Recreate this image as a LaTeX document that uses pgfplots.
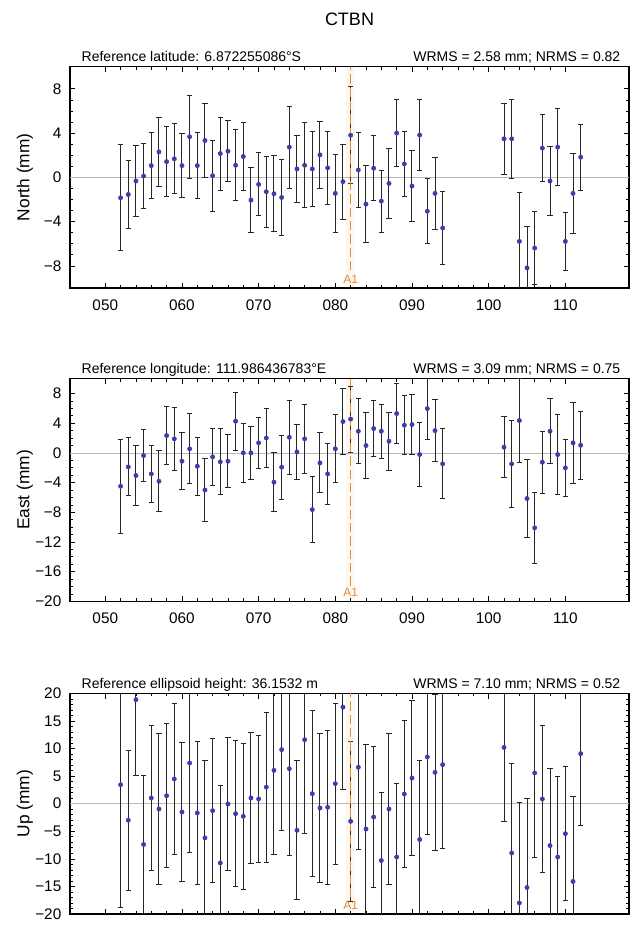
\documentclass[border=0pt]{standalone}
\usepackage{fontspec}
\setmainfont{Liberation Sans}
\usepackage{pgfplots}
\pgfplotsset{compat=1.18}
\usepackage{pgfplotstable}

\definecolor{ptblue}{RGB}{60,60,170}
\definecolor{aorange}{RGB}{232,140,50}

\pgfplotstableread{
x y e
52 -1.85 4.8
53 -1.55 3.1
54 -0.33 3.2
55 0.12 2.9
56 1.06 3.0
57 2.3 3.15
58 1.42 3.15
59 1.67 3.15
60 1.06 2.9
61 3.67 3.75
62 1.06 3.0
63 3.33 3.35
64 0.15 3.2
65 2.15 3.3
66 2.36 2.75
67 1.09 3.2
68 1.88 3.1
69 -2.06 2.95
70 -0.64 2.85
71 -1.3 3.2
72 -1.48 3.45
73 -1.82 3.4
74 2.73 3.7
75 0.76 3.0
76 1.09 3.85
77 0.76 3.4
78 2.03 3.05
79 0.85 3.3
80 -1.45 3.5
81 -0.39 3.4
82 3.8 4.4
83 0.67 3.4
84 -2.42 3.45
85 0.82 2.95
86 -2.15 2.8
87 -0.55 3.2
88 4.0 3.0
89 1.21 2.9
90 -0.79 3.2
91 3.82 3.2
92 -3.06 2.95
93 -1.45 3.25
94 -4.58 3.3
102 3.48 3.2
103 3.48 3.55
104 -5.79 4.4
105 -8.18 3.75
106 -6.39 3.3
107 2.64 3.05
108 -0.33 3.1
109 2.73 3.5
110 -5.79 2.65
111 -1.45 3.6
112 1.82 2.97
}\northtab

\pgfplotstableread{
x y e
52 -4.49 6.35
53 -1.89 3.9
54 -3.05 4.0
55 -0.36 3.55
56 -2.83 3.8
57 -3.82 4.1
58 2.34 3.9
59 1.89 4.2
60 -1.12 3.8
61 0.54 4.7
62 -1.8 3.9
63 -5.0 4.3
64 -0.54 3.8
65 -1.21 4.45
66 -1.12 3.55
67 4.27 3.9
68 0.0 4.0
69 0.0 3.6
70 1.35 3.4
71 2.0 4.0
72 -3.95 4.0
73 -1.93 4.3
74 2.1 5.0
75 0.13 3.65
76 1.89 4.6
77 -7.64 4.4
78 -1.35 4.05
79 -2.83 4.15
80 0.56 4.6
81 4.22 4.4
82 4.56 4.45
83 2.92 4.4
84 0.99 4.45
85 3.28 3.8
86 2.92 3.65
87 1.57 3.9
88 5.3 4.0
89 3.73 4.0
90 3.82 4.1
91 -0.22 4.25
92 5.97 4.2
93 3.0 4.15
94 -1.48 4.7
102 0.76 4.1
103 -1.48 5.9
104 4.36 5.7
105 -6.15 5.3
106 -10.1 4.8
107 -1.26 4.15
108 2.92 4.35
109 -0.22 5.4
110 -2.02 3.85
111 1.35 5.5
112 1.03 4.55
}\easttab

\pgfplotstableread{
x y e
52 3.44 22.3
53 -3.0 12.7
54 18.85 13.8
55 -7.4 12.5
56 1.03 13.2
57 -0.97 13.7
58 1.45 13.0
59 4.47 13.7
60 -1.51 12.6
61 7.37 16.2
62 -1.69 13.0
63 -6.2 14.0
64 -1.27 13.0
65 -10.75 14.0
66 -0.06 12.0
67 -1.81 13.2
68 -2.3 13.2
69 1.03 11.8
70 0.85 11.5
71 3.0 13.6
72 6.04 15.2
73 9.8 14.6
74 6.34 15.8
75 -4.83 12.6
76 11.6 17.0
77 1.81 15.0
78 -0.79 13.5
79 -0.66 14.0
80 3.63 14.6
81 17.5 15.0
82 -3.2 14.5
83 6.59 14.9
84 -4.6 15.4
85 -2.42 12.7
86 -10.3 12.3
87 -0.97 13.6
88 -9.67 13.3
89 1.75 13.4
90 4.65 14.0
91 -6.5 14.4
92 8.46 14.0
93 5.68 14.1
94 7.07 15.2
102 10.2 13.4
103 -8.94 16.2
104 -18.0 18.2
105 -15.2 16.2
106 5.56 15.4
107 0.85 13.4
108 -7.6 13.9
109 -9.67 14.6
110 -5.44 12.2
111 -14.1 15.4
112 9.06 13.0
}\uptab

\pgfplotsset{
  gpsaxis/.style={
    scale only axis, width=419.25pt, anchor=south west,
    xmin=45.4, xmax=118.3,
    xtick={50,60,...,110}, xticklabels={050,060,070,080,090,100,110},
    minor x tick num=4,
    axis line style={line width=0.9pt},
    tick style={black, line width=0.5pt},
    major tick length=4pt, minor tick length=2.2pt,
    tick align=inside,
    tick label style={font=\fontsize{11.5}{13}\selectfont},
    xticklabel style={yshift=-5pt},
    yticklabel style={xshift=-3pt},
  },
  databars/.style={only marks, mark=*, mark size=1.6pt, color=ptblue,
    mark options={fill=ptblue, draw=ptblue},
    error bars/.cd, y dir=both, y explicit,
    error bar style={black!85, line width=0.75pt},
    error mark options={black!85, mark size=2pt, line width=0.75pt, rotate=90}},
}

\begin{document}
\begin{tikzpicture}
\useasboundingbox (0,0) rectangle (475.5pt,694.5pt);

% ---------- North ----------
\begin{axis}[gpsaxis, name=p1, at={(52.5pt,478.5pt)}, height=166pt,
  ymin=-10, ymax=10, ytick={-8,-4,0,4,8}, yticklabels={−8,−4,0,4,8},
  minor y tick num=3]
\addplot[gray!55, line width=0.4pt, forget plot] coordinates {(45.4,0) (118.3,0)};
\addplot+[databars] table[x=x, y=y, y error=e] {\northtab};
\fill[aorange, opacity=0.07] (axis cs:81.45,-10) rectangle (axis cs:82.55,10);
\addplot[aorange, line width=0.9pt, dash pattern=on 7pt off 3pt, forget plot] coordinates {(82,-8.4) (82,10)};
\node[text=aorange, font=\fontsize{9}{10}\selectfont] at (axis cs:82,-9.2) {A1};
\end{axis}
\node[anchor=base west, font=\fontsize{10.5}{12}\selectfont] at ([xshift=5.25pt, yshift=3.75pt]p1.north west) {Reference latitude: 6.872255086°S};
\node[anchor=base east, font=\fontsize{10.5}{12}\selectfont] at ([xshift=-3pt, yshift=3.75pt]p1.north east) {WRMS = 2.58 mm; NRMS = 0.82};
\node[rotate=90, font=\fontsize{13}{15}\selectfont] at ([xshift=-33.75pt]p1.west) {North (mm)};
\node[font=\fontsize{13.5}{15}\selectfont] at ([yshift=35.25pt]p1.north) {CTBN};

% ---------- East ----------
\begin{axis}[gpsaxis, name=p2, at={(52.5pt,243.5pt)}, height=167pt,
  ymin=-20, ymax=10, ytick={-20,-16,...,8}, yticklabels={−20,−16,−12,−8,−4,0,4,8},
  minor y tick num=3]
\addplot[gray!55, line width=0.4pt, forget plot] coordinates {(45.4,0) (118.3,0)};
\addplot+[databars] table[x=x, y=y, y error=e] {\easttab};
\fill[aorange, opacity=0.07] (axis cs:81.45,-20) rectangle (axis cs:82.55,10);
\addplot[aorange, line width=0.9pt, dash pattern=on 7pt off 3pt, forget plot] coordinates {(82,-17.9) (82,10)};
\node[text=aorange, font=\fontsize{9}{10}\selectfont] at (axis cs:82,-18.8) {A1};
\end{axis}
\node[anchor=base west, font=\fontsize{10.5}{12}\selectfont] at ([xshift=5.25pt, yshift=3.75pt]p2.north west) {Reference longitude: 111.986436783°E};
\node[anchor=base east, font=\fontsize{10.5}{12}\selectfont] at ([xshift=-3pt, yshift=3.75pt]p2.north east) {WRMS = 3.09 mm; NRMS = 0.75};
\node[rotate=90, font=\fontsize{13}{15}\selectfont] at ([xshift=-33.75pt]p2.west) {East (mm)};

% ---------- Up ----------
\begin{axis}[gpsaxis, name=p3, at={(52.5pt,9pt)}, height=165.5pt,
  ymin=-20, ymax=20, ytick={-20,-15,...,20}, yticklabels={−20,−15,−10,−5,0,5,10,15,20},
  minor y tick num=4, xticklabels={}]
\addplot[gray!55, line width=0.4pt, forget plot] coordinates {(45.4,0) (118.3,0)};
\addplot+[databars] table[x=x, y=y, y error=e] {\uptab};
\fill[aorange, opacity=0.07] (axis cs:81.45,-20) rectangle (axis cs:82.55,20);
\addplot[aorange, line width=0.9pt, dash pattern=on 7pt off 3pt, forget plot] coordinates {(82,-17.0) (82,20)};
\node[text=aorange, font=\fontsize{9}{10}\selectfont] at (axis cs:82,-18.4) {A1};
\end{axis}
\node[anchor=base west, font=\fontsize{10.5}{12}\selectfont] at ([xshift=5.25pt, yshift=3.75pt]p3.north west) {Reference ellipsoid height: 36.1532 m};
\node[anchor=base east, font=\fontsize{10.5}{12}\selectfont] at ([xshift=-3pt, yshift=3.75pt]p3.north east) {WRMS = 7.10 mm; NRMS = 0.52};
\node[rotate=90, font=\fontsize{13}{15}\selectfont] at ([xshift=-33.75pt]p3.west) {Up (mm)};
\end{tikzpicture}
\end{document}
